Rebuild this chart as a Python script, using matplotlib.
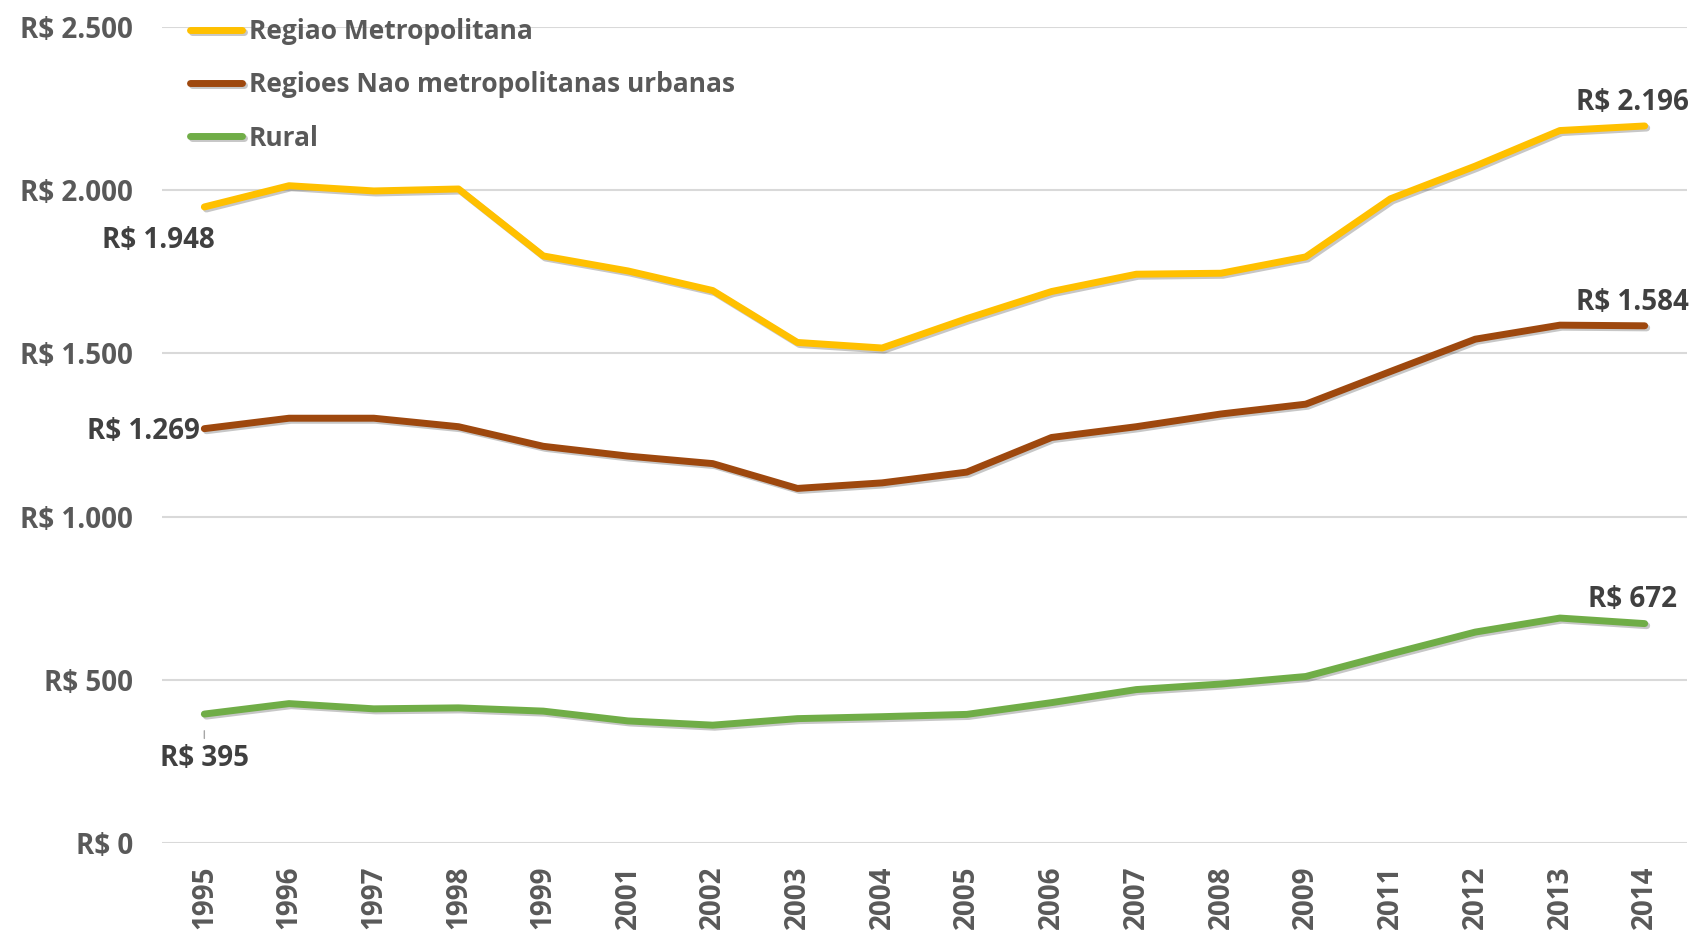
import matplotlib
matplotlib.use("Agg")
import matplotlib.pyplot as plt
import matplotlib.patheffects as pe
from matplotlib.ticker import FuncFormatter

# Renda media por regiao (R$)
anos = ["1995", "1996", "1997", "1998", "1999", "2001", "2002", "2003", "2004",
        "2005", "2006", "2007", "2008", "2009", "2011", "2012", "2013", "2014"]
metropolitana = [1948, 2013, 1997, 2003, 1798, 1752, 1692, 1533, 1516,
                 1606, 1689, 1742, 1745, 1795, 1973, 2073, 2182, 2196]
nao_metro = [1269, 1301, 1301, 1275, 1215, 1185, 1162, 1086, 1103,
             1136, 1242, 1275, 1314, 1344, 1444, 1543, 1586, 1584]
rural = [395, 427, 411, 414, 404, 374, 361, 381, 387,
         394, 430, 470, 487, 510, 579, 646, 689, 672]

series = [
    ("Regiao Metropolitana", metropolitana, "#FFC000"),
    ("Regioes Nao metropolitanas urbanas", nao_metro, "#9E480E"),
    ("Rural", rural, "#70AD47"),
]

plt.rcParams["font.family"] = ["Open Sans", "DejaVu Sans"]
plt.rcParams["font.weight"] = "bold"

fig = plt.figure(figsize=(16.96, 9.3), dpi=100)
ax = fig.add_axes([0.0955, 0.0935, 0.8992, 0.8778])

x = list(range(len(anos)))
shadow = [pe.SimpleLineShadow(offset=(1.5, -1.5), alpha=0.22, shadow_color="black"),
          pe.Normal()]
for nome, vals, cor in series:
    ax.plot(x, vals, color=cor, lw=5, label=nome, solid_capstyle="round",
            solid_joinstyle="round", path_effects=shadow, zorder=3)

ax.set_xlim(-0.5, len(anos) - 0.5)
ax.set_ylim(0, 2500)
ax.set_yticks([0, 500, 1000, 1500, 2000, 2500])
ax.yaxis.set_major_formatter(FuncFormatter(lambda v, p: "R$ " + f"{int(v):,}".replace(",", ".")))
ax.set_xticks(x)
ax.set_xticklabels(anos, rotation=90)
ax.grid(axis="y", color="#D9D9D9", lw=1.5, zorder=0)
for s in ax.spines.values():
    s.set_visible(False)
ax.tick_params(axis="both", length=0, labelsize=20, labelcolor="#595959")
ax.tick_params(axis="y", pad=21)
ax.tick_params(axis="x", pad=16)
for lbl in ax.get_xticklabels() + ax.get_yticklabels():
    lbl.set_fontweight("bold")

def fmt(v):
    return "R$ " + f"{v:,}".replace(",", ".")

lab = dict(fontsize=20, fontweight="bold", color="#404040")
# rotulos do primeiro e ultimo ano
ax.annotate(fmt(metropolitana[0]), (x[0], metropolitana[0]), xytext=(-33, -24),
            textcoords="offset points", ha="center", va="center", **lab)
ax.annotate(fmt(nao_metro[0]), (x[0], nao_metro[0]), xytext=(-3, -2),
            textcoords="offset points", ha="right", va="center", **lab)
ax.annotate(fmt(rural[0]), (x[0], rural[0]), xytext=(0, -32),
            textcoords="offset points", ha="center", va="center",
            arrowprops=dict(arrowstyle="-", color="#A6A6A6", lw=1, shrinkA=2, shrinkB=12), **lab)
for vals in (metropolitana, nao_metro, rural):
    ax.annotate(fmt(vals[-1]), (x[-1], vals[-1]), xytext=(-9, 17),
                textcoords="offset points", ha="center", va="center", **lab)

leg = ax.legend(loc="upper left", bbox_to_anchor=(0.104, 0.995), bbox_transform=fig.transFigure,
                frameon=False, fontsize=19, handlelength=2.0, handletextpad=0.25,
                labelspacing=1.0, borderpad=0)
for t in leg.get_texts():
    t.set_color("#595959")
    t.set_fontweight("bold")

fig.savefig("out.png", dpi=100)
